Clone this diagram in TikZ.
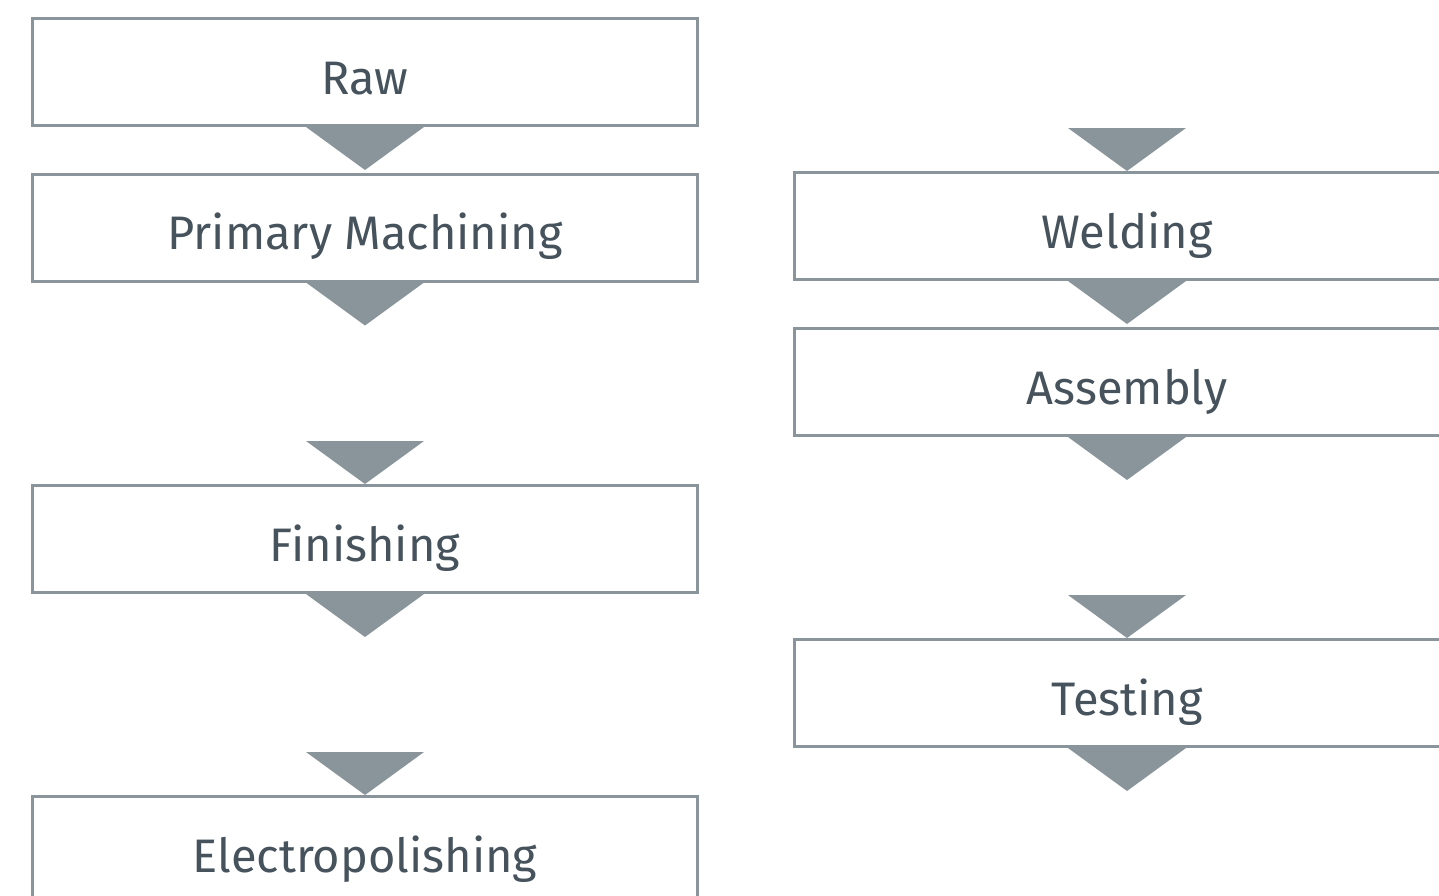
\documentclass[tikz,border=0pt]{standalone}
\usepackage{fontspec}
\setmainfont{Fira Sans}
\usetikzlibrary{calc}
\definecolor{framegray}{HTML}{8A959B}
\definecolor{labelink}{HTML}{46525C}
\tikzset{
  stage/.style={draw=framegray, line width=3pt, fill=white, minimum width=665pt,
    minimum height=107pt, inner sep=0pt, text=labelink, text height=44pt, text depth=0pt,
    font=\fontsize{47}{54}\selectfont},
  wedge/.style={fill=framegray}
}
% triangle hanging below a point (top edge centred on it)
\newcommand{\dropbelow}[1]{\fill[wedge] ($(#1)+(-59pt,0)$) -- ($(#1)+(59pt,0)$) -- ($(#1)+(0,-43pt)$) -- cycle;}
% triangle pointing down onto a point
\newcommand{\droponto}[1]{\fill[wedge] ($(#1)+(-59pt,43pt)$) -- ($(#1)+(59pt,43pt)$) -- (#1) -- cycle;}
\begin{document}
\begin{tikzpicture}[x=1pt, y=-1pt]
    \useasboundingbox (0,0) rectangle (1439,895);
    \clip (0,0) rectangle (1439,895);
    % left column
    \node[stage] (raw) at (365,72) {Raw};
    \node[stage] (primary) at (365,227.5) {Primary Machining};
    \node[stage] (finish) at (365,539) {Finishing};
    \node[stage] (electro) at (365,850) {Electropolishing};
    % right column
    \node[stage] (weld) at (1127,226) {Welding};
    \node[stage] (assembly) at (1127,382) {Assembly};
    \node[stage] (testing) at (1127,693) {Testing};
    % triangles
    \dropbelow{raw.south}
    \dropbelow{primary.south}
    \droponto{finish.north}
    \dropbelow{finish.south}
    \droponto{electro.north}
    \droponto{weld.north}
    \dropbelow{weld.south}
    \dropbelow{assembly.south}
    \droponto{testing.north}
    \dropbelow{testing.south}
\end{tikzpicture}
\end{document}
